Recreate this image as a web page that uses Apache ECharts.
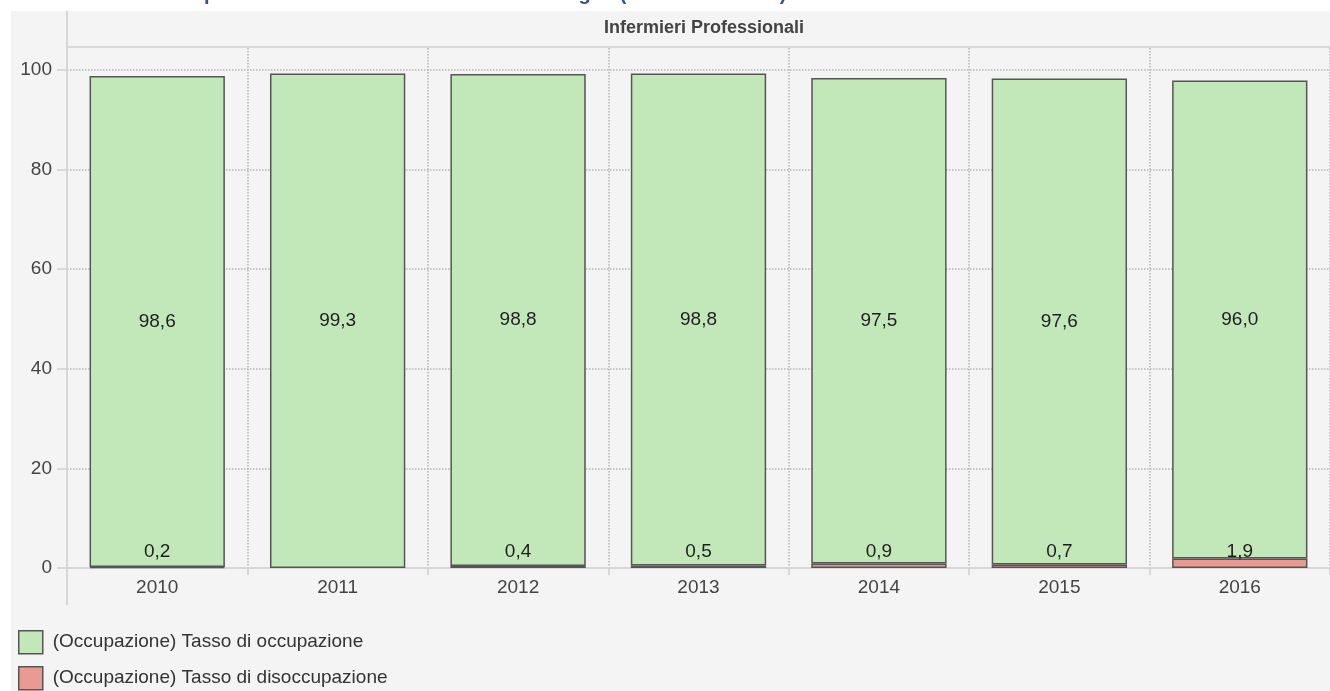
<!DOCTYPE html>
<html>
<head>
<meta charset="utf-8">
<script src="https://cdn.jsdelivr.net/npm/echarts@6/dist/echarts.min.js"></script>
<style>
  html, body { margin: 0; padding: 0; background: #ffffff; }
  #chart { width: 1330px; height: 691px; }
</style>
</head>
<body>
<div id="chart"></div>
<script>
// ---- data ----
const years = ['2010', '2011', '2012', '2013', '2014', '2015', '2016'];
const occupazione = [98.6, 99.3, 98.8, 98.8, 97.5, 97.6, 96.0];
const disoccupazione = [0.2, null, 0.4, 0.5, 0.9, 0.7, 1.9];
const yTickValues = [0, 20, 40, 60, 80, 100];
const panelTitle = 'Infermieri Professionali';
const seriesNames = ['(Occupazione) Tasso di occupazione', '(Occupazione) Tasso di disoccupazione'];
const pageTitle = 'Occupazione dei laureati nelle differenti indagini (anni 2010 - 2016)';

const FONT = "'Liberation Sans', Arial, sans-serif";
const fmt = p => (p.value == null ? '' : Number(p.value).toFixed(1).replace('.', ','));

const legendBase = {
  orient: 'vertical',
  left: 18,
  padding: 0,
  itemWidth: 24,
  itemHeight: 23,
  itemGap: 12,
  icon: 'rect',
  itemStyle: { borderColor: '#555555', borderWidth: 1.5 },
  textStyle: { fontSize: 19, color: '#333333', fontFamily: FONT, padding: [0, 0, 0, 5] }
};

const chart = echarts.init(document.getElementById('chart'));
chart.setOption({
  backgroundColor: '#f4f4f4',
  animation: false,
  textStyle: { fontFamily: FONT },
  graphic: [
    { type: 'rect', silent: true, z: 50, shape: { x: 0, y: 0, width: 1330, height: 11 }, style: { fill: '#ffffff' } },
    { type: 'rect', silent: true, z: 50, shape: { x: 0, y: 0, width: 11, height: 691 }, style: { fill: '#ffffff' } },
    { type: 'text', silent: true, z: 60, x: 154, y: 4,
      style: { text: pageTitle, font: 'bold 20px ' + FONT, fill: '#2f5496', verticalAlign: 'bottom', align: 'left' } },
    { type: 'line', silent: true, z: 40, shape: { x1: 67, y1: 47, x2: 1330, y2: 47 }, style: { stroke: '#d9d9d9', lineWidth: 2 } },
    { type: 'line', silent: true, z: 40, shape: { x1: 67, y1: 11, x2: 67, y2: 48 }, style: { stroke: '#d6d6d6', lineWidth: 2 } },
    { type: 'line', silent: true, z: 40, shape: { x1: 67, y1: 568, x2: 67, y2: 605 }, style: { stroke: '#d6d6d6', lineWidth: 2 } },
    { type: 'text', silent: true, z: 40, x: 704, y: 28,
      style: { text: panelTitle, font: 'bold 18px ' + FONT, fill: '#444444', align: 'center', verticalAlign: 'middle' } }
  ],
  legend: [
    Object.assign({}, legendBase, { top: 630, data: [seriesNames[0]] }),
    Object.assign({}, legendBase, { top: 666, data: [seriesNames[1]] })
  ],
  grid: { left: 67, top: 48, width: 1272, height: 520, containLabel: false },
  xAxis: {
    type: 'category',
    data: years,
    axisLine: { show: true, lineStyle: { color: '#d6d6d6', width: 2 } },
    axisTick: { show: true, length: 7, lineStyle: { color: '#d0d0d0', width: 1.5 } },
    axisLabel: { fontSize: 19, color: '#444444', margin: 10, fontFamily: FONT },
    splitLine: { show: true, lineStyle: { type: 'dotted', color: '#b5b5b5', width: 1.5 } }
  },
  yAxis: {
    type: 'value',
    min: 0,
    max: 104.4,
    interval: 20,
    axisLine: { show: true, lineStyle: { color: '#d6d6d6', width: 2 } },
    axisTick: { show: true, length: 10, customValues: yTickValues, lineStyle: { color: '#d0d0d0', width: 1.5 } },
    axisLabel: { fontSize: 19, color: '#444444', margin: 15, customValues: yTickValues, fontFamily: FONT },
    splitLine: { show: true, lineStyle: { type: 'dotted', color: '#b5b5b5', width: 1.5 } }
  },
  series: [
    {
      name: seriesNames[1],
      type: 'bar',
      stack: 'tot',
      barWidth: '75%',
      data: disoccupazione,
      itemStyle: { color: '#e99a93', borderColor: '#555555', borderWidth: 1.5 },
      label: { show: true, position: 'insideBottom', distance: 7, formatter: fmt, fontSize: 19, color: '#1e1e1e', fontFamily: FONT }
    },
    {
      name: seriesNames[0],
      type: 'bar',
      stack: 'tot',
      barWidth: '75%',
      data: occupazione,
      itemStyle: { color: '#c2e8b9', borderColor: '#555555', borderWidth: 1.5 },
      label: { show: true, position: 'inside', formatter: fmt, fontSize: 19, color: '#1e1e1e', fontFamily: FONT }
    }
  ]
});
</script>
</body>
</html>
